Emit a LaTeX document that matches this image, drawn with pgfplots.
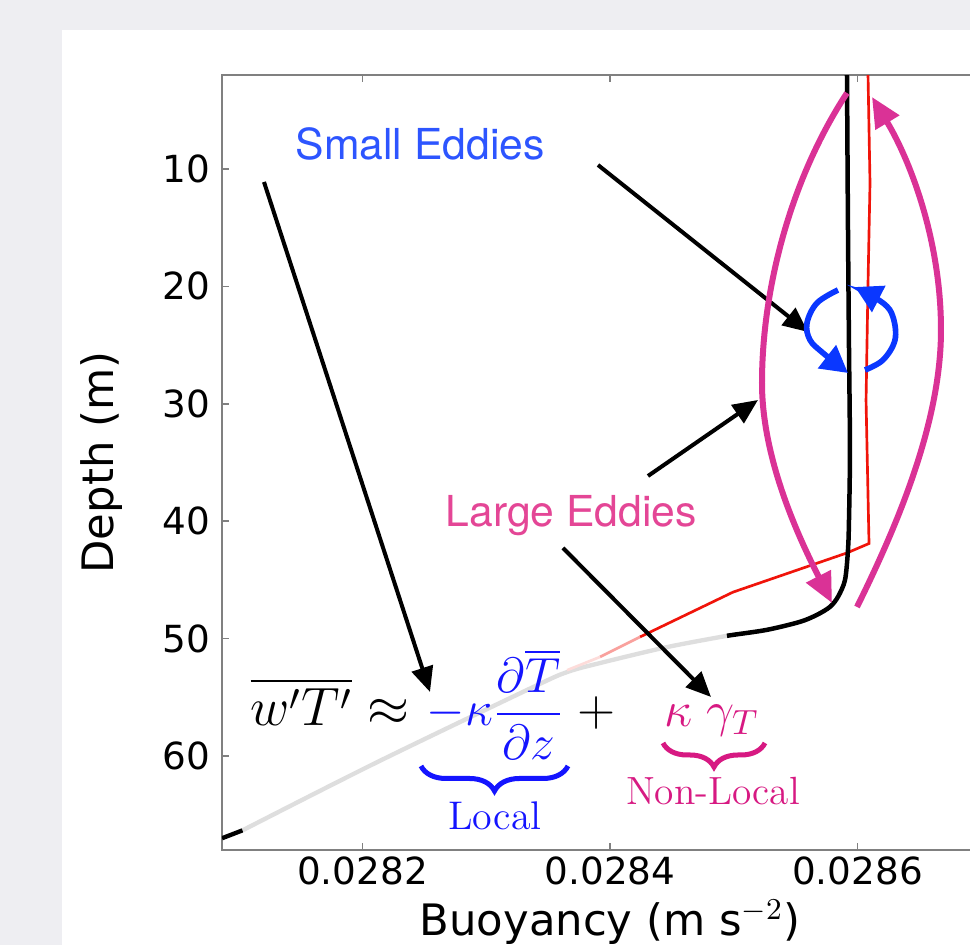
\RequirePackage{fix-cm}
\documentclass[border=0pt]{standalone}
\usepackage{pgfplots}
\pgfplotsset{compat=1.18}
\usepackage{amsmath}
\usepackage{fontspec}
\usetikzlibrary{arrows.meta,decorations.pathreplacing}
\newfontfamily\dejavu{DejaVu Sans}
\newfontfamily\heros{TeX Gyre Heros}
\definecolor{bgc}{RGB}{238,238,242}
\definecolor{spine}{RGB}{128,128,128}
\definecolor{curvegray}{RGB}{222,222,222}
\definecolor{curvered}{RGB}{240,20,10}
\definecolor{txtblue}{RGB}{45,85,255}
\definecolor{eddyblue}{RGB}{10,55,255}
\definecolor{eqblue}{RGB}{20,20,255}
\definecolor{txtpink}{RGB}{228,70,150}
\definecolor{arcpink}{RGB}{218,50,150}
\definecolor{eqpink}{RGB}{215,25,130}
\begin{document}
\begin{tikzpicture}[x=0.3pt,y=-0.3pt]
\clip (0,0) rectangle (970,945);
\fill[bgc] (0,0) rectangle (970,945);
\fill[white] (62,30) rectangle (970,945);
\begin{axis}[
  at={(66.6pt,-255pt)}, anchor=south west,
  scale only axis, width=232.8pt, height=232.5pt,
  xmin=0.02808646, xmax=0.0287135, ymin=2, ymax=68, y dir=reverse,
  xtick={0.0282,0.0284,0.0286}, xticklabels={0.0282,0.0284,0.0286},
  ytick={10,20,30,40,50,60},
  scaled x ticks=false,
  /pgf/number format/assume math mode=true,
  axis line style={draw=spine, line width=0.6pt},
  tick style={draw=spine, line width=0.5pt},
  major tick length=2pt,
  tick label style={font=\dejavu\fontsize{11.2}{13}\selectfont},
  xticklabel style={anchor=base, yshift=-10.5pt},
  label style={font=\dejavu\fontsize{13}{15}\selectfont},
  xlabel={Buoyancy (m s$^{-2}$)},
  ylabel={Depth (m)},
  xlabel style={at={(axis description cs:0.5,-0.1097)}, anchor=base},
  ylabel style={at={(axis description cs:-0.1546,0.5)}, anchor=center},
  clip=true,
]
\addplot[curvegray, line width=1.3pt, smooth, tension=0.5] coordinates {
(0.0284945,49.76) (0.0284461,50.72) (0.0283919,52.08) (0.0283653,52.85) (0.0283378,54.13) (0.0282101,60.61) (0.0281030,66.33)
};
\addplot[black, line width=1.3pt] coordinates {(0.0281030,66.33) (0.0280865,67.0)};
\addplot[curvered, line width=0.8pt, sharp plot] coordinates {
(0.0286085,2) (0.0286101,11.2) (0.0286085,19.7) (0.0286069,29.7) (0.0286093,41.9) (0.0285915,42.7) (0.0284994,46.04) (0.0284242,49.86)
};
\addplot[curvered!40, line width=0.8pt] coordinates {(0.0284242,49.86) (0.0283919,51.56)};
\addplot[curvered!15, line width=0.8pt] coordinates {(0.0283919,51.56) (0.0283653,52.69)};
\addplot[black, line width=1.35pt, smooth, tension=0.5] coordinates {
(0.0285915,2) (0.0285923,15) (0.0285931,25) (0.0285939,34) (0.0285931,40) (0.0285923,42.45) (0.0285899,45.0) (0.0285842,46.44) (0.0285778,47.29) (0.0285673,47.97) (0.0285535,48.57) (0.0285269,49.25) (0.0284994,49.68) (0.0284945,49.76)
};
\end{axis}
% black arrows
\begin{scope}[black, line width=1.2pt, -{Triangle[length=7.5pt,width=6.5pt]}]
\draw (264,182) -- (430,692);
\draw (598,165) -- (808,332);
\draw (648,476) -- (758,400);
\draw (563,548) -- (711,697);
\end{scope}
% pink large eddies
\draw[arcpink, line width=1.8pt, -{Triangle[length=9pt,width=8pt]}] (847,93) .. controls (790,180) and (762,290) .. (762,383) .. controls (762,460) and (800,540) .. (832,603);
\draw[arcpink, line width=1.8pt, -{Triangle[length=9pt,width=8pt]}] (857,607) .. controls (900,520) and (941,420) .. (941,330) .. controls (941,240) and (910,160) .. (872,97);
% blue small eddies
\draw[eddyblue, line width=1.7pt, -{Triangle[length=8pt,width=8.5pt]}] plot[smooth, tension=0.6] coordinates {(838,290) (817,303) (807,323) (810,340) (823,353) (848,373)};
\draw[eddyblue, line width=1.7pt, -{Triangle[length=8pt,width=8.5pt]}] plot[smooth, tension=0.6] coordinates {(865,370) (883,360) (895,340) (893,317) (883,303) (855,287)};
% texts
\node[anchor=base west, inner sep=0, text=txtblue, font=\heros\fontsize{12.8}{14}\selectfont] at (295,160) {Small Eddies};
\node[anchor=base west, inner sep=0, text=txtpink, font=\heros\fontsize{12.8}{14}\selectfont] at (445,527) {Large Eddies};
% equation
\node[anchor=base west, inner sep=0, font=\fontsize{16.2}{19}\selectfont] at (250,726) {$\overline{w'T'}\approx{}$};
\node[anchor=base west, inner sep=0, text=eqblue, font=\fontsize{14.8}{18}\selectfont] at (426,726) {$-\kappa\dfrac{\partial\overline{T}}{\partial z}$};
\node[anchor=base west, inner sep=0, font=\fontsize{15}{18}\selectfont] at (577,726) {$+$};
\node[anchor=base west, inner sep=0, text=eqpink, font=\fontsize{15}{18}\selectfont] at (664,727) {$\kappa\;\gamma_T$};
\draw[eqblue, line width=1.5pt, decorate, decoration={brace, mirror, amplitude=7.5pt}] (421,766) -- (568,766);
\draw[eqpink, line width=1.5pt, decorate, decoration={brace, mirror, amplitude=7.2pt}] (663,743) -- (765,743);
\node[anchor=base, inner sep=0, text=eqblue, font=\fontsize{12}{14}\selectfont] at (495,830) {Local};
\node[anchor=base, inner sep=0, text=eqpink, font=\fontsize{11.8}{14}\selectfont] at (713,805) {Non-Local};
\end{tikzpicture}
\end{document}
